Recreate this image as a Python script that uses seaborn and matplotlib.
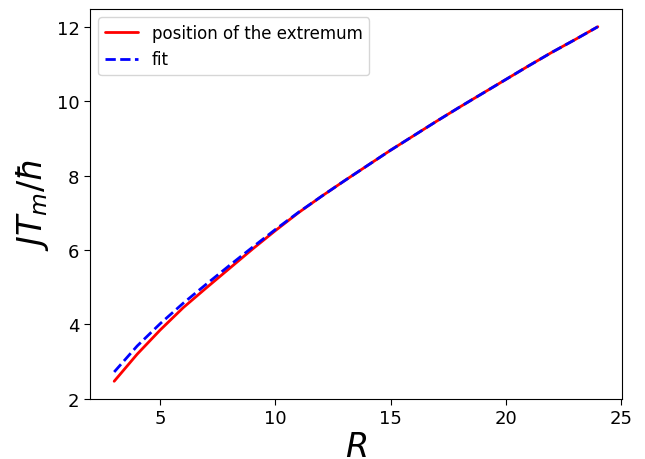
import matplotlib
matplotlib.use("Agg")
import matplotlib.pyplot as plt
import seaborn as sns
import pandas as pd

R = [3, 4, 5, 6, 7, 8, 9, 10, 11, 12, 13, 14, 15, 16, 17, 18, 19, 20, 21, 22, 23, 24]
extremum = [2.47, 3.2, 3.85, 4.45, 4.98, 5.5, 6.02, 6.52, 7.0, 7.44, 7.86, 8.27, 8.68,
            9.07, 9.46, 9.84, 10.21, 10.58, 10.95, 11.31, 11.65, 12.0]
fit = [2.72, 3.42, 4.02, 4.57, 5.08, 5.58, 6.07, 6.55, 7.01, 7.44, 7.86, 8.27, 8.68,
       9.07, 9.46, 9.84, 10.21, 10.58, 10.95, 11.31, 11.65, 12.0]

sns.set_style("ticks", {"text.color": "black", "axes.labelcolor": "black",
                        "xtick.color": "black", "ytick.color": "black",
                        "axes.edgecolor": "black"})
plt.rcParams['font.family'] = ['DejaVu Sans']
plt.rcParams['mathtext.fontset'] = 'dejavusans'

df = pd.DataFrame({"R": R, "extremum": extremum, "fit": fit})

fig, ax = plt.subplots(figsize=(6.45, 4.6), dpi=100)
fig.subplots_adjust(left=90/645, right=622/645, top=1-10/460, bottom=1-400/460)

sns.lineplot(data=df, x="R", y="extremum", ax=ax, color="red", lw=2,
             label="position of the extremum")
sns.lineplot(data=df, x="R", y="fit", ax=ax, color="blue", lw=2, ls="--",
             label="fit")

ax.set_xlabel(r"$R$", fontsize=24, color="black", labelpad=2)
ax.set_ylabel(r"$JT_m/\hbar$", fontsize=24, color="black")
ax.tick_params(labelsize=13, direction="out", length=4, color="black", labelcolor="black")
for s in ax.spines.values():
    s.set_color("black")
    s.set_linewidth(0.8)
ax.set_xticks([5, 10, 15, 20, 25])
ax.set_yticks([2, 4, 6, 8, 10, 12])
leg = ax.legend(loc="upper left", fontsize=12, frameon=True)
for t in leg.get_texts():
    t.set_color("black")

fig.savefig("out.png", dpi=100)
